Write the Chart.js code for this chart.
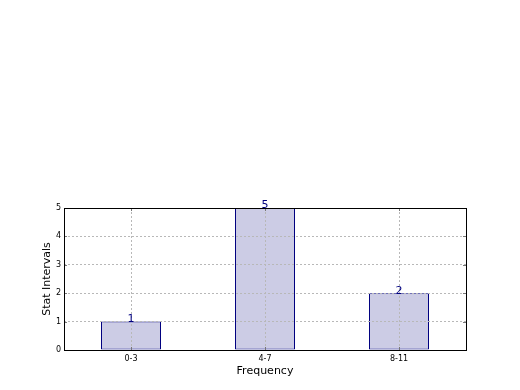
<!DOCTYPE html>
<html><head><meta charset="utf-8">
<script src="https://cdn.jsdelivr.net/npm/chart.js@4"></script>
<style>html,body{margin:0;padding:0;background:#fff}#w{width:520px;height:390px}</style>
</head><body><div id="w"><canvas id="c" width="520" height="390"></canvas></div>
<script>
const categories = ["0-3", "4-7", "8-11"];
const values = [1, 5, 2];
const yTicks = [0, 1, 2, 3, 4, 5];
const xTitle = "Frequency";
const yTitle = "Stat Intervals";

const framePlugin = {
  id: 'frame',
  beforeDatasetsDraw(chart) { chart.ctx.setLineDash([]); },
  afterDraw(chart) {
    const {ctx, chartArea: a, scales} = chart;
    ctx.save();
    ctx.setLineDash([]);
    ctx.strokeStyle = '#777'; ctx.lineWidth = 1;
    yTicks.forEach(v => {
      const y = Math.round(scales.y.getPixelForValue(v)) + 0.5;
      ctx.beginPath(); ctx.moveTo(a.left, y); ctx.lineTo(a.left + 3, y); ctx.stroke();
      ctx.beginPath(); ctx.moveTo(a.right, y); ctx.lineTo(a.right - 3, y); ctx.stroke();
    });
    categories.forEach((c, i) => {
      const x = Math.round(scales.x.getPixelForValue(i)) + 0.5;
      ctx.beginPath(); ctx.moveTo(x, a.bottom); ctx.lineTo(x, a.bottom - 3); ctx.stroke();
      ctx.beginPath(); ctx.moveTo(x, a.top); ctx.lineTo(x, a.top + 3); ctx.stroke();
    });
    ctx.strokeStyle = '#000';
    ctx.strokeRect(Math.round(a.left) + 0.5, Math.round(a.top) + 0.5, Math.round(a.right - a.left), Math.round(a.bottom - a.top));
    ctx.fillStyle = '#000080';
    ctx.font = '11px "DejaVu Sans"';
    ctx.textAlign = 'center'; ctx.textBaseline = 'bottom';
    values.forEach((v, i) => {
      ctx.fillText(String(v), scales.x.getPixelForValue(i), scales.y.getPixelForValue(v) + 3);
    });
    ctx.restore();
  }
};

new Chart(document.getElementById('c'), {
  type: 'bar',
  data: {
    labels: categories,
    datasets: [{
      data: values,
      backgroundColor: '#ccccE5',
      borderColor: '#000080',
      borderWidth: 1,
      borderSkipped: false,
      barPercentage: 0.4478,
      categoryPercentage: 1.0
    }]
  },
  options: {
    responsive: false,
    animation: false,
    devicePixelRatio: 1,
    layout: {padding: {top: 208, right: 54, left: 41, bottom: 12}},
    plugins: {legend: {display: false}, tooltip: {enabled: false}},
    scales: {
      x: {
        offset: true,
        grid: {offset: false, color: '#b8b8b8', lineWidth: 1, drawTicks: false, z: 1},
        border: {display: false, dash: [2, 2]},
        ticks: {color: '#000', font: {family: 'DejaVu Sans', size: 8}, padding: 4, maxRotation: 0},
        title: {display: true, text: xTitle, color: '#000', font: {family: 'DejaVu Sans', size: 11}, padding: {top: 1, bottom: 0}},
        afterFit(s) { s.height = 28; }
      },
      y: {
        min: 0, max: 5,
        afterBuildTicks(s) { s.ticks = yTicks.map(v => ({value: v})); },
        grid: {color: '#b8b8b8', lineWidth: 1, drawTicks: false, z: 1},
        border: {display: false, dash: [2, 2]},
        ticks: {color: '#000', font: {family: 'DejaVu Sans', size: 8}, padding: 3},
        title: {display: true, text: yTitle, color: '#000', font: {family: 'DejaVu Sans', size: 11}, padding: {top: 0, bottom: 0}},
        afterFit(s) { s.width = 23; }
      }
    }
  },
  plugins: [framePlugin]
});
</script></body></html>
